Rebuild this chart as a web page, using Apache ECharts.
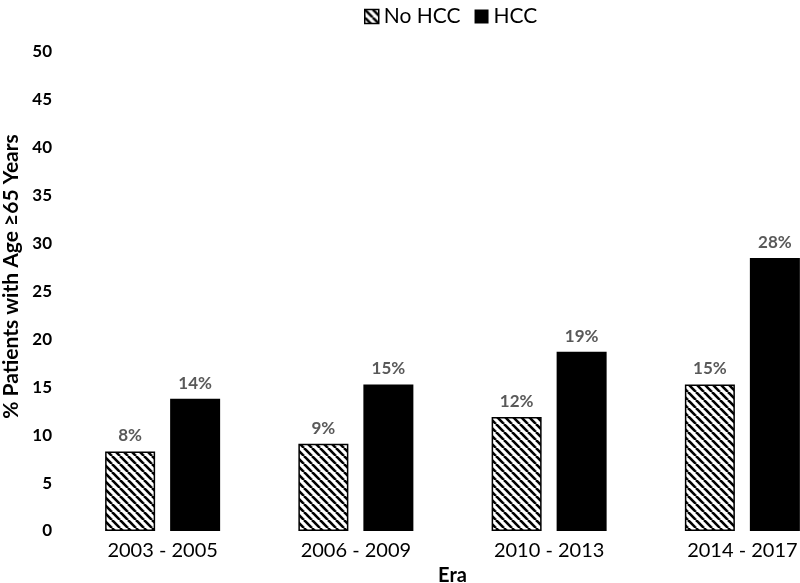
<!DOCTYPE html>
<html><head><meta charset="utf-8">
<script src="https://cdn.jsdelivr.net/npm/echarts@6/dist/echarts.min.js"></script>
<style>html,body{margin:0;padding:0;background:#fff}#c{width:800px;height:583px}</style>
</head><body><div id="c"></div>
<script>
var categories = ['2003 - 2005', '2006 - 2009', '2010 - 2013', '2014 - 2017'];
var noHccValues = [8.3, 9.1, 11.9, 15.3];
var hccValues = [13.8, 15.3, 18.7, 28.5];
var noHccLabels = ['8%', '9%', '12%', '15%'];
var hccLabels = ['14%', '15%', '19%', '28%'];
var yTicks = [0, 5, 10, 15, 20, 25, 30, 35, 40, 45, 50];

function hatch() {
  var s = 8, c = document.createElement('canvas');
  c.width = s; c.height = s;
  var g = c.getContext('2d');
  g.fillStyle = '#fff'; g.fillRect(0, 0, s, s);
  g.strokeStyle = '#000'; g.lineWidth = 2.6;
  [[-s, 0], [0, 0], [s, 0]].forEach(function (o) {
    g.beginPath(); g.moveTo(o[0], 0); g.lineTo(o[0] + s, s); g.stroke();
  });
  return c;
}
var pat = { image: hatch(), repeat: 'repeat' };
var font = 'Lato, "Open Sans", sans-serif';

var chart = echarts.init(document.getElementById('c'), null, { renderer: 'canvas' });
chart.setOption({
  animation: false,
  textStyle: { fontFamily: font },
  legend: {
    top: 1, left: 359, itemWidth: 14, itemHeight: 14, itemGap: 14,
    textStyle: { fontSize: 21, color: '#000', fontFamily: font },
    data: [
      { name: 'No HCC', icon: 'rect', itemStyle: { color: pat, borderColor: '#000', borderWidth: 1.5 } },
      { name: 'HCC', icon: 'rect', itemStyle: { color: '#000' } }
    ]
  },
  grid: { left: 66, width: 773, top: 52, height: 479, containLabel: false, outerBoundsMode: 'none' },
  xAxis: {
    type: 'category', data: categories,
    axisLine: { show: false }, axisTick: { show: false },
    axisLabel: { fontSize: 20, color: '#000', margin: 10, fontFamily: font },
    name: 'Era', nameLocation: 'middle', nameGap: 33,
    nameTextStyle: { fontSize: 20, fontWeight: 'bold', color: '#000', fontFamily: font }
  },
  yAxis: {
    type: 'value', min: yTicks[0], max: yTicks[yTicks.length - 1], interval: 5,
    splitLine: { show: false }, axisLine: { show: false }, axisTick: { show: false },
    axisLabel: { fontSize: 17, fontWeight: 'bold', color: '#000', margin: 14, fontFamily: font },
    name: '% Patients with Age \u226565 Years', nameLocation: 'middle', nameGap: 40,
    nameTextStyle: { fontSize: 21, fontWeight: 'bold', color: '#000', fontFamily: font, padding: [0, 0, 0, 30] }
  },
  series: [
    {
      name: 'No HCC', type: 'bar', data: noHccValues, barWidth: 50, barGap: '30%',
      itemStyle: { color: pat, borderColor: '#000', borderWidth: 1.5 },
      label: { show: true, position: 'top', distance: 7, fontSize: 17, fontWeight: 'bold', color: '#595959',
        formatter: function (p) { return noHccLabels[p.dataIndex]; } }
    },
    {
      name: 'HCC', type: 'bar', data: hccValues, barWidth: 50, barGap: '30%',
      itemStyle: { color: '#000' },
      label: { show: true, position: 'top', distance: 7, fontSize: 17, fontWeight: 'bold', color: '#595959',
        formatter: function (p) { return hccLabels[p.dataIndex]; } }
    }
  ]
});
</script></body></html>
